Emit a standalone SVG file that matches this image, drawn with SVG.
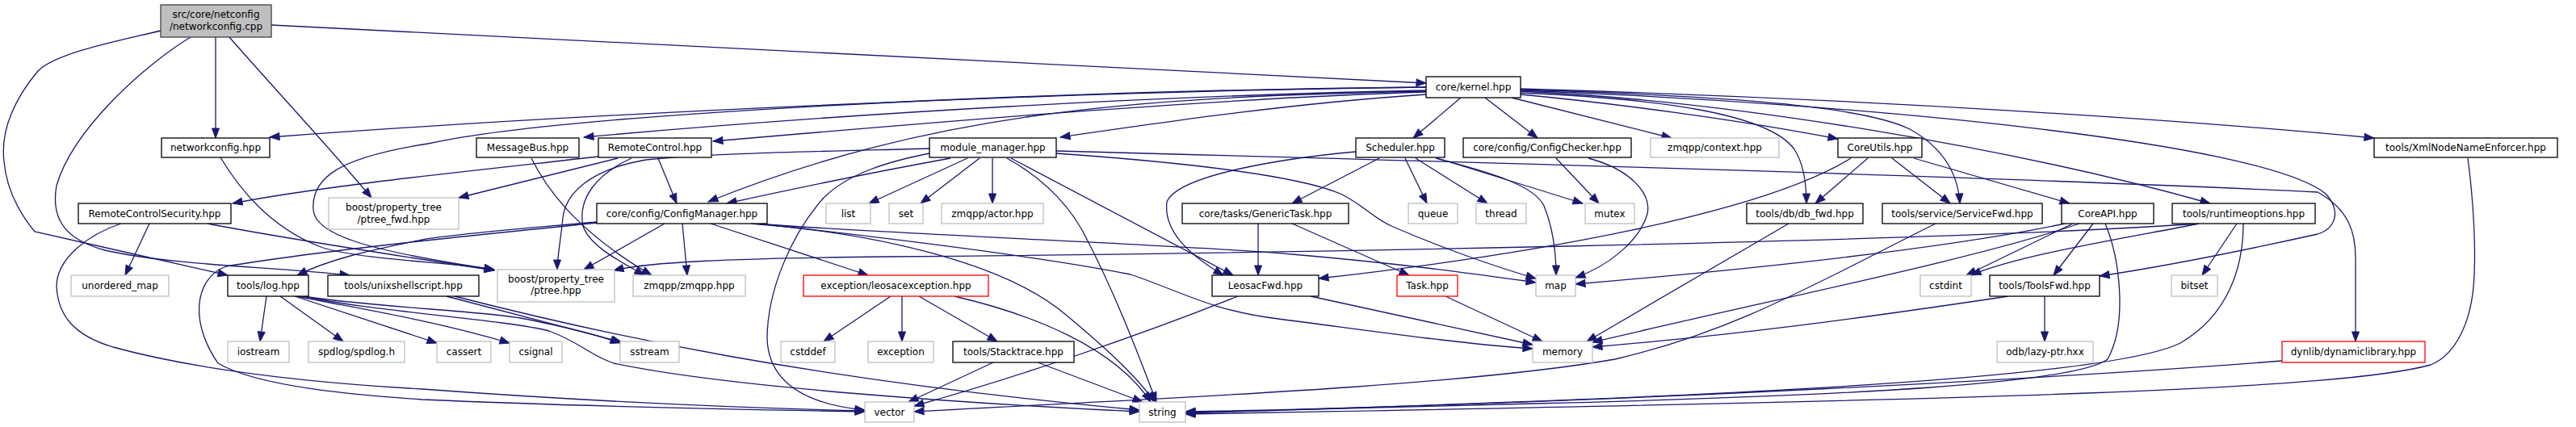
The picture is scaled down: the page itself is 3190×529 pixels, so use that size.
<svg xmlns="http://www.w3.org/2000/svg" width="3190" height="529" viewBox="0 0 3190 529">
<style>
rect{fill:#fff;stroke:#000;stroke-width:1.3}
rect.g{stroke:#bfbfbf}
rect.r{stroke:#ff0000}
rect.root{fill:#bfbfbf;stroke:#404040}
text{font-family:"DejaVu Sans","Liberation Sans",sans-serif;font-size:12px;text-anchor:middle;fill:#000}
#edges path{fill:none;stroke:#191970;stroke-width:1.3;marker-end:url(#a)}
</style>
<defs>
<marker id="a" markerUnits="userSpaceOnUse" markerWidth="14" markerHeight="10" refX="12" refY="4.5" orient="auto" style="overflow:visible">
<path d="M0,0 L12,4.5 L0,9 Z" fill="#191970" stroke="#191970" stroke-width="1"/>
</marker>
</defs>
<rect x="0" y="0" width="3190" height="529" style="fill:#fff;stroke:none"/>
<g id="edges">
<path d="M336,31 L1766,103"/>
<path d="M267,46 L267,171"/>
<path d="M284,46 C340,110 410,185 460,245"/>
<path d="M199,38 C150,50 70,65 47,88 C20,120 0,160 5,200 C8,235 25,265 43,287 C123,305 202,323 282,341"/>
<path d="M236,46 C180,80 90,160 70,230 C62,275 85,298 130,310 C220,330 340,330 433,341"/>
<path d="M273,195 C300,240 340,285 400,307 C450,322 560,325 612,334"/>
<path d="M1766,108 C1400,112 800,135 334,170"/>
<path d="M1766,112 C1450,118 1050,140 723,170"/>
<path d="M1766,114 C1500,122 1150,152 883,175"/>
<path d="M1766,117 C1600,128 1450,150 1313,170"/>
<path d="M1766,113 C1400,120 1150,140 877,250"/>
<path d="M1766,108 C1300,112 700,140 530,178 C420,195 385,220 388,260 C390,290 450,310 612,334"/>
<path d="M1809,121 L1750,171"/>
<path d="M1839,121 L1904,171"/>
<path d="M1872,121 L2070,171"/>
<path d="M1883,117 C2000,128 2150,148 2276,172"/>
<path d="M1883,115 C2050,122 2190,140 2222,185 C2235,205 2237,230 2237,252"/>
<path d="M1883,111 C2100,118 2300,128 2365,160 C2410,185 2425,220 2427,252"/>
<path d="M1883,110 C2300,122 2700,148 2940,171"/>
<path d="M1883,113 C2150,125 2500,185 2737,252"/>
<path d="M1883,112 C2300,128 2800,175 2880,240 C2900,262 2892,283 2870,290 C2780,310 2680,330 2600,342"/>
<path d="M658,196 C680,240 720,290 807,341"/>
<path d="M741,194 C600,210 400,230 288,252"/>
<path d="M765,196 L568,245"/>
<path d="M815,196 L838,252"/>
<path d="M782,196 C740,215 715,245 722,280 C730,305 770,325 798,341"/>
<path d="M185,277 L155,341"/>
<path d="M257,277 C350,295 500,318 612,335"/>
<path d="M150,277 C110,290 70,320 70,355 C72,390 90,415 140,430 C250,460 400,475 523,482 C700,495 900,505 1071,509"/>
<path d="M823,277 L723,334"/>
<path d="M845,277 L851,341"/>
<path d="M739,275 C650,283 560,290 523,297 C460,310 410,320 368,341"/>
<path d="M880,277 L1075,341"/>
<path d="M930,277 C1100,290 1250,330 1320,390 C1380,440 1410,470 1430,498"/>
<path d="M935,277 C1100,290 1500,305 1600,315 C1750,328 1830,340 1902,350"/>
<path d="M940,277 C1100,295 1300,320 1400,340 C1460,360 1500,385 1583,395 C1700,410 1800,425 1898,432"/>
<path d="M740,276 C600,290 400,310 280,330 C240,345 235,400 270,450 C320,480 450,490 523,495 C700,503 900,507 1071,510"/>
<path d="M1177,196 C1100,210 1000,230 900,252"/>
<path d="M1198,196 L1076,252"/>
<path d="M1213,196 L1140,252"/>
<path d="M1229,196 L1229,252"/>
<path d="M1151,184 C1000,188 880,190 800,198 C730,210 700,240 697,270 C694,300 690,320 690,334"/>
<path d="M1151,190 C1100,200 1050,215 1020,245 C980,290 950,360 950,420 C952,470 990,500 1071,508"/>
<path d="M1247,196 C1290,220 1320,250 1340,285 C1380,360 1410,440 1432,498"/>
<path d="M1252,196 L1527,341"/>
<path d="M1308,190 C1450,200 1600,215 1660,240 C1690,255 1700,270 1723,280 C1780,305 1850,330 1902,345"/>
<path d="M1308,187 C1800,200 2500,220 2870,238 C2910,260 2917,290 2917,320 L2917,423"/>
<path d="M1708,196 L1600,252"/>
<path d="M1740,196 L1767,252"/>
<path d="M1753,196 L1842,252"/>
<path d="M1780,196 L1960,252"/>
<path d="M1778,196 C1850,215 1900,230 1912,255 C1922,280 1927,310 1927,341"/>
<path d="M1679,188 C1600,195 1460,215 1445,250 C1440,290 1480,320 1515,341"/>
<path d="M1927,196 L1980,252"/>
<path d="M1967,196 C2020,210 2045,240 2040,265 C2030,300 1990,330 1951,344"/>
<path d="M1558,277 L1558,341"/>
<path d="M1600,277 L1745,341"/>
<path d="M2313,196 L2248,252"/>
<path d="M2343,196 L2415,252"/>
<path d="M2370,196 L2563,252"/>
<path d="M2292,196 C2180,265 1900,315 1633,345"/>
<path d="M2567,277 L2435,341"/>
<path d="M2592,277 L2543,341"/>
<path d="M2607,277 C2625,320 2635,400 2610,445 C2570,475 2300,490 1900,500 C1700,505 1550,510 1468,511"/>
<path d="M2557,277 C2400,310 2150,335 1951,352"/>
<path d="M2575,277 C2450,320 2200,370 1972,424"/>
<path d="M2215,277 L1965,423"/>
<path d="M2397,277 C2250,350 2150,410 2000,445 C1800,480 1400,495 1132,510"/>
<path d="M2487,367 C2300,395 2150,415 1972,430"/>
<path d="M2532,367 L2532,423"/>
<path d="M2770,277 L2727,341"/>
<path d="M2778,277 C2778,330 2760,390 2700,425 C2600,475 2000,495 1468,512"/>
<path d="M2723,277 C2400,300 1500,315 1100,318 C900,320 800,325 760,335"/>
<path d="M2723,277 C2650,292 2500,315 2441,341"/>
<path d="M3056,196 C3062,240 3066,300 3064,340 C3062,400 3040,440 3010,452 C2900,482 2500,495 1468,513"/>
<path d="M2826,447 C2600,465 2000,500 1468,510"/>
<path d="M1103,367 L1020,423"/>
<path d="M1117,367 L1117,423"/>
<path d="M1138,367 L1235,423"/>
<path d="M1182,367 C1280,390 1380,430 1425,498"/>
<path d="M1230,449 L1125,498"/>
<path d="M1285,449 L1415,498"/>
<path d="M1623,367 L1898,427"/>
<path d="M1533,367 C1400,420 1250,470 1132,503"/>
<path d="M1790,367 L1910,423"/>
<path d="M330,367 L322,423"/>
<path d="M347,367 L425,423"/>
<path d="M365,367 C420,385 480,405 541,425"/>
<path d="M368,367 C430,380 530,395 631,425"/>
<path d="M370,366 C450,380 600,385 650,395 C700,405 740,415 768,425"/>
<path d="M372,366 C450,385 620,395 680,410 C720,425 730,440 760,450 C900,480 1200,500 1411,510"/>
<path d="M553,367 L770,424"/>
<path d="M563,367 C750,415 1000,470 1411,508"/>
</g>
<g id="n_root"><rect class="root" x="199" y="6" width="137" height="40"/><text x="267.5" y="22">src/core/netconfig</text><text x="267.5" y="37">/networkconfig.cpp</text></g>
<g id="n_nc"><rect x="200" y="171" width="134" height="24"/><text x="267" y="187">networkconfig.hpp</text></g>
<g id="n_rcs"><rect x="97" y="252" width="189" height="25"/><text x="191.5" y="268.5">RemoteControlSecurity.hpp</text></g>
<g id="n_ptfwd"><rect class="g" x="407" y="245" width="161" height="39"/><text x="487.5" y="261">boost/property_tree</text><text x="487.5" y="276">/ptree_fwd.hpp</text></g>
<g id="n_mb"><rect x="590" y="171" width="127" height="24"/><text x="653.5" y="187">MessageBus.hpp</text></g>
<g id="n_rc"><rect x="741" y="171" width="140" height="24"/><text x="811" y="187">RemoteControl.hpp</text></g>
<g id="n_cm"><rect x="739" y="252" width="211" height="25"/><text x="844.5" y="268.5">core/config/ConfigManager.hpp</text></g>
<g id="n_list"><rect class="g" x="1023" y="252" width="55" height="25"/><text x="1050.5" y="268.5">list</text></g>
<g id="n_mm"><rect x="1151" y="171" width="157" height="24"/><text x="1229.5" y="187">module_manager.hpp</text></g>
<g id="n_set"><rect class="g" x="1101" y="252" width="42" height="25"/><text x="1122" y="268.5">set</text></g>
<g id="n_actor"><rect class="g" x="1166" y="252" width="126" height="25"/><text x="1229" y="268.5">zmqpp/actor.hpp</text></g>
<g id="n_gt"><rect x="1464" y="252" width="206" height="25"/><text x="1567" y="268.5">core/tasks/GenericTask.hpp</text></g>
<g id="n_kernel"><rect x="1766" y="95" width="117" height="26"/><text x="1824.5" y="112">core/kernel.hpp</text></g>
<g id="n_sched"><rect x="1679" y="171" width="110" height="24"/><text x="1734" y="187">Scheduler.hpp</text></g>
<g id="n_cc"><rect x="1812" y="171" width="208" height="24"/><text x="1916" y="187">core/config/ConfigChecker.hpp</text></g>
<g id="n_ctx"><rect class="g" x="2044" y="171" width="159" height="24"/><text x="2123.5" y="187">zmqpp/context.hpp</text></g>
<g id="n_queue"><rect class="g" x="1744" y="252" width="61" height="25"/><text x="1774.5" y="268.5">queue</text></g>
<g id="n_thread"><rect class="g" x="1828" y="252" width="62" height="25"/><text x="1859" y="268.5">thread</text></g>
<g id="n_mutex"><rect class="g" x="1963" y="252" width="61" height="25"/><text x="1993.5" y="268.5">mutex</text></g>
<g id="n_cu"><rect x="2276" y="171" width="104" height="24"/><text x="2328" y="187">CoreUtils.hpp</text></g>
<g id="n_db"><rect x="2163" y="252" width="144" height="25"/><text x="2235" y="268.5">tools/db/db_fwd.hpp</text></g>
<g id="n_sf"><rect x="2331" y="252" width="198" height="25"/><text x="2430" y="268.5">tools/service/ServiceFwd.hpp</text></g>
<g id="n_api"><rect x="2553" y="252" width="114" height="25"/><text x="2610" y="268.5">CoreAPI.hpp</text></g>
<g id="n_xml"><rect x="2940" y="171" width="227" height="24"/><text x="3053.5" y="187">tools/XmlNodeNameEnforcer.hpp</text></g>
<g id="n_ro"><rect x="2690" y="252" width="177" height="25"/><text x="2778.5" y="268.5">tools/runtimeoptions.hpp</text></g>
<g id="n_um"><rect class="g" x="88" y="341" width="121" height="26"/><text x="148.5" y="358">unordered_map</text></g>
<g id="n_log"><rect x="282" y="341" width="100" height="26"/><text x="332" y="358">tools/log.hpp</text></g>
<g id="n_us"><rect x="406" y="341" width="187" height="26"/><text x="499.5" y="358">tools/unixshellscript.hpp</text></g>
<g id="n_io"><rect class="g" x="282" y="423" width="76" height="26"/><text x="320" y="440">iostream</text></g>
<g id="n_spd"><rect class="g" x="382" y="423" width="119" height="26"/><text x="441.5" y="440">spdlog/spdlog.h</text></g>
<g id="n_cassert"><rect class="g" x="541" y="423" width="67" height="26"/><text x="574.5" y="440">cassert</text></g>
<g id="n_csignal"><rect class="g" x="631" y="423" width="65" height="26"/><text x="663.5" y="440">csignal</text></g>
<g id="n_sstream"><rect class="g" x="768" y="423" width="73" height="26"/><text x="804.5" y="440">sstream</text></g>
<g id="n_pt"><rect class="g" x="616" y="334" width="145" height="40"/><text x="688.5" y="350">boost/property_tree</text><text x="688.5" y="364">/ptree.hpp</text></g>
<g id="n_zmq"><rect class="g" x="784" y="341" width="139" height="26"/><text x="853.5" y="358">zmqpp/zmqpp.hpp</text></g>
<g id="n_le"><rect class="r" x="995" y="341" width="229" height="26"/><text x="1109.5" y="358">exception/leosacexception.hpp</text></g>
<g id="n_cstddef"><rect class="g" x="967" y="423" width="67" height="26"/><text x="1000.5" y="440">cstddef</text></g>
<g id="n_exc"><rect class="g" x="1075" y="423" width="81" height="26"/><text x="1115.5" y="440">exception</text></g>
<g id="n_st"><rect x="1180" y="423" width="150" height="26"/><text x="1255" y="440">tools/Stacktrace.hpp</text></g>
<g id="n_vec"><rect class="g" x="1071" y="498" width="61" height="25"/><text x="1101.5" y="514.5">vector</text></g>
<g id="n_str"><rect class="g" x="1411" y="498" width="57" height="25"/><text x="1439.5" y="514.5">string</text></g>
<g id="n_lf"><rect x="1501" y="341" width="132" height="26"/><text x="1567" y="358">LeosacFwd.hpp</text></g>
<g id="n_task"><rect class="r" x="1730" y="341" width="75" height="26"/><text x="1767.5" y="358">Task.hpp</text></g>
<g id="n_map"><rect class="g" x="1902" y="341" width="49" height="26"/><text x="1926.5" y="358">map</text></g>
<g id="n_mem"><rect class="g" x="1898" y="423" width="74" height="26"/><text x="1935" y="440">memory</text></g>
<g id="n_cstdint"><rect class="g" x="2378" y="341" width="63" height="26"/><text x="2409.5" y="358">cstdint</text></g>
<g id="n_tf"><rect x="2464" y="341" width="136" height="26"/><text x="2532" y="358">tools/ToolsFwd.hpp</text></g>
<g id="n_odb"><rect class="g" x="2473" y="423" width="119" height="26"/><text x="2532.5" y="440">odb/lazy-ptr.hxx</text></g>
<g id="n_bitset"><rect class="g" x="2689" y="341" width="57" height="26"/><text x="2717.5" y="358">bitset</text></g>
<g id="n_dyn"><rect class="r" x="2826" y="423" width="177" height="26"/><text x="2914.5" y="440">dynlib/dynamiclibrary.hpp</text></g>
</svg>
